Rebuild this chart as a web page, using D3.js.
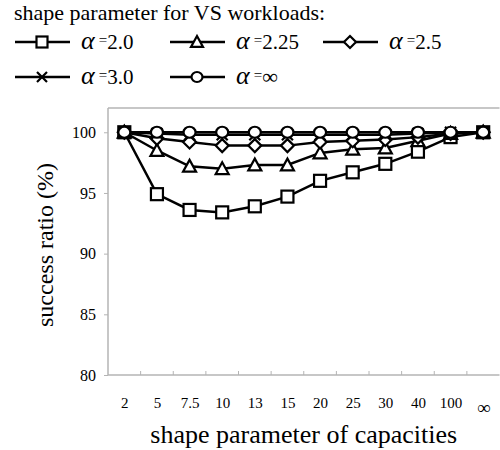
<!DOCTYPE html>
<html>
<head>
<meta charset="utf-8">
<script src="https://cdn.jsdelivr.net/npm/d3@7"></script>
<style>
body { margin: 0; background: #fff; }
svg { display: block; }
svg text { font-family: 'Liberation Serif', 'DejaVu Serif', serif; }
</style>
</head>
<body>
<svg id="chart" width="500" height="450"></svg>
<script>
// capacities (x categories)
var categories = ["2", "5", "7.5", "10", "13", "15", "20", "25", "30", "40", "100", "∞"];
var yTicks = [80, 85, 90, 95, 100];

// success ratio (%) for each VS workload shape parameter
var alpha20  = [100, 94.9, 93.6, 93.4, 93.9, 94.7, 96.0, 96.7, 97.4, 98.4, 99.6, 100];
var alpha225 = [100, 98.5, 97.2, 97.0, 97.3, 97.3, 98.3, 98.6, 98.7, 99.3, 99.9, 100];
var alpha25  = [100, 99.5, 99.2, 98.9, 98.9, 98.9, 99.2, 99.3, 99.4, 99.6, 99.9, 100];
var alpha30  = [100, 99.9, 99.8, 99.8, 99.8, 99.8, 99.8, 99.8, 99.8, 99.9, 100, 100];
var alphaInf = [100, 100, 100, 100, 100, 100, 100, 100, 100, 100, 100, 100];

var seriesNames = ["2.0", "2.25", "2.5", "3.0", "∞"];
var seriesVals = [alpha20, alpha225, alpha25, alpha30, alphaInf];
var seriesMarks = ["square", "triangle", "diamond", "cross", "circle"];

var serif = "'Liberation Serif', 'DejaVu Serif', serif";
var svg = d3.select("#chart");
var pLeft = 108, pRight = 499.5, pTop = 108, pBottom = 375;

var xBand = d3.scaleBand().domain(categories).range([pLeft, pRight]);
var x = d3.scalePoint().domain(categories).range([pLeft, pRight]).padding(0.5);
var y = d3.scaleLinear().domain([80, 102]).range([pBottom, pTop]);

var axisCol = "#b4b4b4";

// top border of plot
svg.append("line").attr("x1", pLeft).attr("x2", pRight).attr("y1", pTop).attr("y2", pTop)
	.attr("stroke", axisCol).attr("stroke-width", 1.5);

// y axis
var ya = svg.append("g").attr("transform", "translate(" + pLeft + ",0)")
	.call(d3.axisLeft(y).tickValues(yTicks).tickSize(4).tickPadding(8));
ya.select(".domain").attr("stroke", axisCol).attr("stroke-width", 1.5).attr("d", "M0," + pTop + "V" + pBottom);
ya.selectAll(".tick line").attr("stroke", axisCol);
ya.selectAll(".tick text").style("font-family", serif).attr("font-size", 16).attr("fill", "#000");

// x axis
var xa = svg.append("g").attr("transform", "translate(0," + pBottom + ")")
	.call(d3.axisBottom(x).tickSize(0).tickPadding(22));
xa.select(".domain").attr("stroke", axisCol).attr("stroke-width", 1.5).attr("d", "M" + pLeft + ",0H" + pRight);
xa.selectAll(".tick text").style("font-family", serif).attr("font-size", 15).attr("fill", "#000");
xa.selectAll(".tick text").filter(function(d){ return d == "∞"; }).attr("font-size", 19).attr("dy", "0.9em");

// tick marks between categories
xa.selectAll(".sep").data(categories.slice(1)).enter().append("line")
	.attr("x1", function(d){ return xBand(d); }).attr("x2", function(d){ return xBand(d); })
	.attr("y1", 0).attr("y2", -4).attr("stroke", axisCol).attr("stroke-width", 1);

// axis titles
svg.append("text").attr("x", (pLeft + pRight) / 2).attr("y", 443).attr("text-anchor", "middle")
	.style("font-family", serif).attr("font-size", 26).text("shape parameter of capacities");
svg.append("text").attr("transform", "translate(53," + 245 + ") rotate(-90)").attr("text-anchor", "middle")
	.style("font-family", serif).attr("font-size", 24).text("success ratio (%)");

function drawMark(g, kind, cx, cy, s) {
	var sw = 2.2;
	if (kind == "square") {
		g.append("rect").attr("x", cx - s / 2).attr("y", cy - s / 2).attr("width", s).attr("height", s)
			.attr("fill", "#fff").attr("stroke", "#000").attr("stroke-width", sw);
	} else if (kind == "triangle") {
		var h = s * 0.9;
		g.append("path").attr("d", "M" + cx + "," + (cy - h / 2 - 1) + "L" + (cx + s / 2 + 0.5) + "," + (cy + h / 2) + "L" + (cx - s / 2 - 0.5) + "," + (cy + h / 2) + "Z")
			.attr("fill", "#fff").attr("stroke", "#000").attr("stroke-width", sw);
	} else if (kind == "diamond") {
		var r = s / 2 + 0.5;
		g.append("path").attr("d", "M" + cx + "," + (cy - r) + "L" + (cx + r) + "," + cy + "L" + cx + "," + (cy + r) + "L" + (cx - r) + "," + cy + "Z")
			.attr("fill", "#fff").attr("stroke", "#000").attr("stroke-width", sw);
	} else if (kind == "cross") {
		var c = s / 2 - 0.5;
		g.append("path").attr("d", "M" + (cx - c) + "," + (cy - c) + "L" + (cx + c) + "," + (cy + c) + "M" + (cx + c) + "," + (cy - c) + "L" + (cx - c) + "," + (cy + c))
			.attr("fill", "none").attr("stroke", "#000").attr("stroke-width", sw);
	} else if (kind == "circle") {
		g.append("ellipse").attr("cx", cx).attr("cy", cy).attr("rx", s / 2).attr("ry", s / 2 - 0.5)
			.attr("fill", "#fff").attr("stroke", "#000").attr("stroke-width", sw);
	}
}

var line = d3.line().x(function(d, i){ return x(categories[i]); }).y(function(d){ return y(d); });

var plot = svg.append("g");
for (var k = 0; k < seriesVals.length; k++) {
	plot.append("path").attr("d", line(seriesVals[k])).attr("fill", "none")
		.attr("stroke", "#000").attr("stroke-width", 2.5);
	for (var i = 0; i < categories.length; i++) {
		drawMark(plot, seriesMarks[k], x(categories[i]), y(seriesVals[k][i]), 12);
	}
}

// legend
svg.append("text").attr("x", 14).attr("y", 20).style("font-family", serif).attr("font-size", 22)
	.text("shape parameter for VS workloads:");

var legPos = [[15, 42], [170, 42], [323, 42], [15, 77], [170, 77]];
for (var k = 0; k < seriesNames.length; k++) {
	var lx = legPos[k][0], ly = legPos[k][1];
	var lg = svg.append("g");
	lg.append("line").attr("x1", lx).attr("x2", lx + 55).attr("y1", ly).attr("y2", ly)
		.attr("stroke", "#000").attr("stroke-width", 2.5);
	drawMark(lg, seriesMarks[k], lx + 27, ly, 11);
	var t = lg.append("text").attr("x", lx + 66).attr("y", ly + 7).style("font-family", serif);
	t.append("tspan").attr("font-style", "italic").attr("font-size", 26).text("α");
	t.append("tspan").attr("font-size", 15).attr("dx", 4).attr("dy", -4).text("=");
	t.append("tspan").attr("font-size", seriesNames[k] == "∞" ? 22 : 21).attr("dy", 4).text(seriesNames[k]);
}
</script>
</body>
</html>
